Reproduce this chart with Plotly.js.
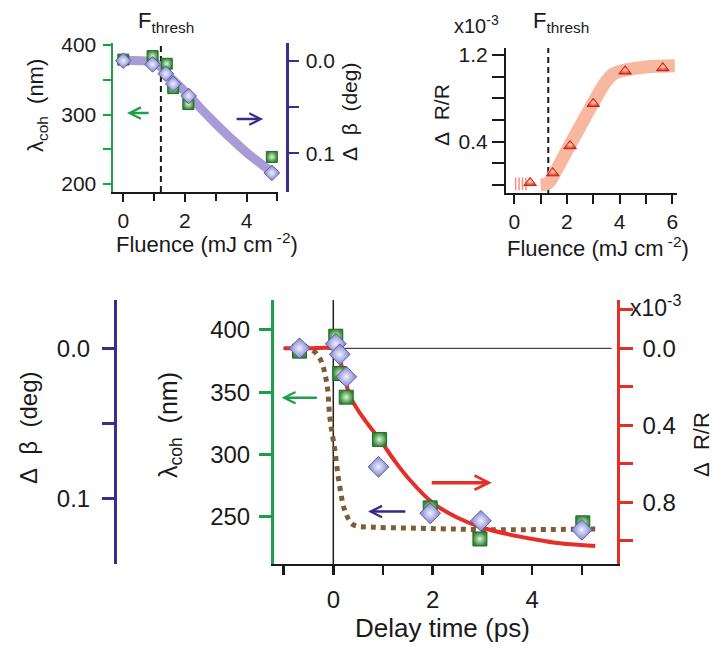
<!DOCTYPE html>
<html><head><meta charset="utf-8">
<script src="https://cdn.plot.ly/plotly-3.0.1.min.js"></script>
<style>html,body{margin:0;padding:0;background:#fff}#chart{width:715px;height:652px}</style>
</head><body><div id="chart"></div>
<script>
// ---- top-left panel: coherence length & delta beta vs fluence ----
const tlFluenceSq = [0, 0.95, 1.41, 1.62, 2.11, 4.82];
const tlLambda = [379, 384, 373, 338, 315, 239];
const tlFluenceDia = [0, 0.95, 1.38, 1.62, 2.12, 4.82];
const tlDeltaBeta = [0.0, 0.004, 0.014, 0.025, 0.038, 0.121];
const tlFitFluence = [0, 0.5, 1.0, 1.25, 1.5, 2.0, 2.5, 3.0, 3.5, 4.0, 4.5, 4.9];
const tlFitBeta = [0.0, 0.0, 0.002, 0.008, 0.017, 0.033, 0.051, 0.068, 0.084, 0.099, 0.112, 0.122];
const tlThresh = 1.22;
// ---- top-right panel: dR/R vs fluence ----
const trFluence = [0.6, 1.46, 2.12, 3.0, 4.21, 5.64];
const trDRR = [0.02, 0.11, 0.36, 0.75, 1.05, 1.08];
const trFitFluence = [1.0, 1.3, 1.6, 2.0, 2.5, 3.0, 3.5, 3.8, 4.2, 5.0, 6.1];
const trFitDRR = [0.0, 0.02, 0.14, 0.32, 0.54, 0.76, 0.96, 1.03, 1.06, 1.09, 1.1];
const trHatchFluence = [0.05, 0.18, 0.31, 0.44];
const trHatchDRR = [0.01, 0.01, 0.01, 0.01];
const trThresh = 1.29;
// ---- bottom panel: vs delay time ----
const bDelaySq = [-0.68, 0.05, 0.13, 0.26, 0.93, 1.95, 2.95, 5.02];
const bLambda = [383, 395, 365, 346, 312, 257, 232, 245];
const bDelayDia = [-0.68, 0.05, 0.13, 0.26, 0.91, 1.95, 2.97, 5.0];
const bDeltaBeta = [0.0, -0.003, 0.004, 0.019, 0.079, 0.110, 0.115, 0.121];
const bRedDelay = [-1.0, -0.5, 0.0, 0.07, 0.17, 0.34, 0.6, 0.94, 1.25, 1.54, 2.01, 2.5, 2.95, 3.5, 4.0, 4.56, 5.27];
const bRedDRR = [0, 0, 0, 0.01, 0.095, 0.25, 0.36, 0.476, 0.59, 0.684, 0.805, 0.88, 0.927, 0.965, 0.99, 1.013, 1.027];
const bBrownDelay = [-0.8, -0.47, -0.27, -0.13, -0.07, 0.03, 0.13, 0.24, 0.4, 0.8, 1.54, 3.2, 5.27];
const bBrownLambda = [385.5, 385, 377, 357, 330, 303.5, 274, 254, 243.5, 241.5, 240.8, 239.5, 240];

const W = 715, H = 652;
const px = v => v / W, py = v => 1 - v / H;
const FONT = 'Liberation Sans, Arial, sans-serif';
const GREEN = '#1c9f48', PURPLE = '#3b2c8e', RED = '#e62e28', BLACK = '#1a1a1a', NAVY = '#2e2a85';
const SP = '\u00a0';

function ax(o) {
  return Object.assign({showgrid: false, zeroline: false, showline: true, ticks: 'outside',
    tickwidth: 2, linewidth: 2, fixedrange: true, tickfont: {size: 21, color: BLACK, family: FONT}}, o);
}
function minor(dtick, len, color, tick0, w) {
  const m = {dtick: dtick, ticklen: len, tickwidth: w || 2, tickcolor: color, ticks: 'outside'};
  if (tick0 !== undefined) m.tick0 = tick0;
  return m;
}
function label(x, y, text, size, angle) {
  const a = {xref: 'paper', yref: 'paper', x: px(x), y: py(y), text: text, showarrow: false,
    xanchor: 'center', yanchor: 'middle', font: {size: size, color: BLACK, family: FONT}};
  if (angle) a.textangle = angle;
  return a;
}
function arrow(xref, yref, xHead, xTail, yv, color, width, size) {
  return {xref: xref, yref: yref, axref: xref, ayref: yref, x: xHead, y: yv, ax: xTail, ay: yv, text: '',
    showarrow: true, arrowhead: 5, arrowsize: size, arrowwidth: width, arrowcolor: color};
}

const sqMarker = (size) => ({symbol: 'square', size: size, color: '#2f8a35',
  gradient: {type: 'radial', color: '#e4f2d6'}, line: {color: '#23682a', width: 1}});
const diaMarker = (size) => ({symbol: 'diamond', size: size, color: '#7c80cc',
  gradient: {type: 'radial', color: '#f0f0ff'}, line: {color: '#5a5da8', width: 1}});

const traces = [
  {x: tlFitFluence, y: tlFitBeta, xaxis: 'x', yaxis: 'y', mode: 'lines',
   line: {color: '#a99bd6', width: 9, shape: 'spline'}},
  {x: tlFluenceSq, y: tlLambda, xaxis: 'x', yaxis: 'y2', mode: 'markers', marker: sqMarker(11), cliponaxis: false},
  {x: tlFluenceDia, y: tlDeltaBeta, xaxis: 'x', yaxis: 'y3', mode: 'markers', marker: diaMarker(12), cliponaxis: false},

  {x: trFitFluence, y: trFitDRR, xaxis: 'x2', yaxis: 'y4', mode: 'lines',
   line: {color: '#f8b8a0', width: 13, shape: 'spline'}},
  {x: trHatchFluence, y: trHatchDRR, xaxis: 'x2', yaxis: 'y4', mode: 'markers',
   marker: {symbol: 'line-ns', size: 9, line: {color: '#f29080', width: 1.5}}},
  {x: trFluence, y: trDRR, xaxis: 'x2', yaxis: 'y4', mode: 'markers', cliponaxis: false,
   marker: {symbol: 'triangle-up', size: 11, color: '#e3322a', gradient: {type: 'radial', color: '#ffd8b8'},
            line: {color: '#c0201a', width: 1}}},

  {x: bBrownDelay, y: bBrownLambda, xaxis: 'x3', yaxis: 'y5', mode: 'lines',
   line: {color: '#7d5c36', width: 5, dash: 'dot', shape: 'spline'}},
  {x: bRedDelay, y: bRedDRR, xaxis: 'x3', yaxis: 'y6', mode: 'lines',
   line: {color: RED, width: 4, shape: 'spline'}},
  {x: bDelaySq, y: bLambda, xaxis: 'x3', yaxis: 'y7', mode: 'markers', marker: sqMarker(14), cliponaxis: false},
  {x: bDelayDia, y: bDeltaBeta, xaxis: 'x3', yaxis: 'y8', mode: 'markers', marker: diaMarker(16), cliponaxis: false}
];

const tlBetaRange = [0.1416, -0.0191];
const tlLamRange = [188.5, 402.9];
const bLamRange = [211.9, 424.1];
const bigTick = {size: 24, color: BLACK, family: FONT};

const layout = {
  width: W, height: H, margin: {l: 0, r: 0, t: 0, b: 0},
  paper_bgcolor: '#fff', plot_bgcolor: 'rgba(0,0,0,0)', showlegend: false,
  font: {family: FONT, color: BLACK, size: 20},
  // top-left
  xaxis: ax({domain: [px(113), px(278)], range: [-0.334, 5.02], anchor: 'y', tick0: 0, dtick: 2,
    ticklen: 8, linecolor: BLACK, tickcolor: BLACK, minor: minor(1, 7, BLACK), ticklabelstandoff: 1}),
  yaxis: ax({domain: [py(192), py(43)], range: tlBetaRange, anchor: 'free', position: px(287), side: 'right',
    tick0: 0, dtick: 0.1, tickformat: '.1f', ticklen: 10, linecolor: PURPLE, tickcolor: PURPLE, linewidth: 2.5,
    minor: minor(0.05, 10, PURPLE), ticklabelstandoff: 3}),
  yaxis2: ax({overlaying: 'y', anchor: 'x', side: 'left', range: tlLamRange, tick0: 0, dtick: 100,
    ticklen: 8, linecolor: GREEN, tickcolor: GREEN, linewidth: 2.5, minor: minor(50, 8, GREEN), ticklabelstandoff: 2}),
  yaxis3: {overlaying: 'y', range: tlBetaRange, visible: false, fixedrange: true},
  // top-right
  xaxis2: ax({domain: [px(506), px(676.7)], range: [-0.316, 6.17], anchor: 'y4', tick0: 0, dtick: 2,
    ticklen: 9, linecolor: BLACK, tickcolor: BLACK, minor: minor(1, 9, BLACK)}),
  yaxis4: ax({domain: [py(193), py(48)], range: [-0.074, 1.265], anchor: 'x2', tick0: 0.4, dtick: 0.8,
    tickformat: '.1f', ticklen: 12, linecolor: BLACK, tickcolor: BLACK, minor: minor(0.2, 12, BLACK, 0)}),
  // bottom
  xaxis3: ax({domain: [px(274), px(616.7)], range: [-1.193, 5.702], anchor: 'y5', tick0: 0, dtick: 2,
    ticklen: 9, linecolor: BLACK, tickcolor: BLACK, tickwidth: 2.5, minor: minor(1, 9, BLACK, undefined, 2.5),
    tickfont: bigTick, ticklabelstandoff: 4}),
  yaxis5: ax({domain: [py(564), py(300)], range: bLamRange, anchor: 'x3', tick0: 0, dtick: 50,
    ticklen: 12, linecolor: GREEN, tickcolor: GREEN, linewidth: 3, tickwidth: 3, tickfont: bigTick, ticklabelstandoff: 4}),
  yaxis6: ax({overlaying: 'y5', anchor: 'x3', side: 'right', range: [1.1205, -0.251], tick0: 0, dtick: 0.4,
    tickformat: '.1f', ticklen: 13, linecolor: RED, tickcolor: RED, linewidth: 3, tickwidth: 3,
    minor: minor(0.2, 13, RED, undefined, 3), tickfont: bigTick, ticklabelstandoff: 5}),
  yaxis7: {overlaying: 'y5', range: bLamRange, visible: false, fixedrange: true},
  yaxis8: ax({overlaying: 'y5', anchor: 'free', position: px(115), side: 'left', range: [0.1438, -0.0322],
    tick0: 0, dtick: 0.1, tickformat: '.1f', ticklen: 12, linecolor: PURPLE, tickcolor: PURPLE, linewidth: 2.5,
    tickwidth: 2.5, minor: minor(0.05, 12, PURPLE, undefined, 2.5), tickfont: bigTick, ticklabelstandoff: 7}),
  shapes: [
    {type: 'line', xref: 'x', yref: 'y domain', x0: tlThresh, x1: tlThresh, y0: 0, y1: 1,
     line: {color: BLACK, width: 2, dash: '6px,4px'}, layer: 'below'},
    {type: 'line', xref: 'x2', yref: 'y4 domain', x0: trThresh, x1: trThresh, y0: 0, y1: 1,
     line: {color: BLACK, width: 2, dash: '6px,4px'}, layer: 'below'},
    {type: 'line', xref: 'x3', yref: 'y5 domain', x0: 0, x1: 0, y0: 0, y1: 1,
     line: {color: '#222', width: 1.5}, layer: 'below'},
    {type: 'line', xref: 'x3', yref: 'y6', x0: -1.0, x1: 5.6, y0: 0, y1: 0,
     line: {color: '#444', width: 1.2}, layer: 'below'}
  ],
  annotations: [
    arrow('x', 'y2', 0.12, 0.87, 302, GREEN, 2.5, 0.9),
    arrow('x', 'y2', 4.54, 3.63, 293.5, PURPLE, 2.5, 0.9),
    arrow('x3', 'y5', -1.04, -0.30, 345.6, GREEN, 2.5, 0.9),
    arrow('x3', 'y5', 0.70, 1.48, 254, NAVY, 2.5, 0.9),
    arrow('x3', 'y6', 3.19, 1.95, 0.698, RED, 3.5, 0.8),
    label(166, 22, 'F<sub>thresh</sub>', 22),
    label(561, 22, 'F<sub>thresh</sub>', 22),
    label(476, 24, 'x10<sup>-3</sup>', 20),
    label(655, 306, 'x10<sup>-3</sup>', 23),
    label(37, 106, 'λ<sub>coh</sub>' + SP + SP + '(nm)', 22, -90),
    label(349, 112, 'Δ' + SP + SP + 'β' + SP + SP + '(deg)', 21, -90),
    label(207, 243, 'Fluence (mJ cm<sup> -2</sup>)', 22),
    label(442, 115, 'Δ' + SP + SP + 'R/R', 21, -90),
    label(598, 247, 'Fluence (mJ cm<sup> -2</sup>)', 22),
    label(28, 428, 'Δ' + SP + SP + 'β' + SP + SP + '(deg)', 24, -90),
    label(170, 425, 'λ<sub>coh</sub>' + SP + SP + '(nm)', 25, -90),
    label(702, 445, 'Δ' + SP + SP + 'R/R', 22, -90),
    label(443, 628, 'Delay time (ps)', 26)
  ]
};

Plotly.newPlot('chart', traces, layout, {staticPlot: true, displayModeBar: false});
</script></body></html>
